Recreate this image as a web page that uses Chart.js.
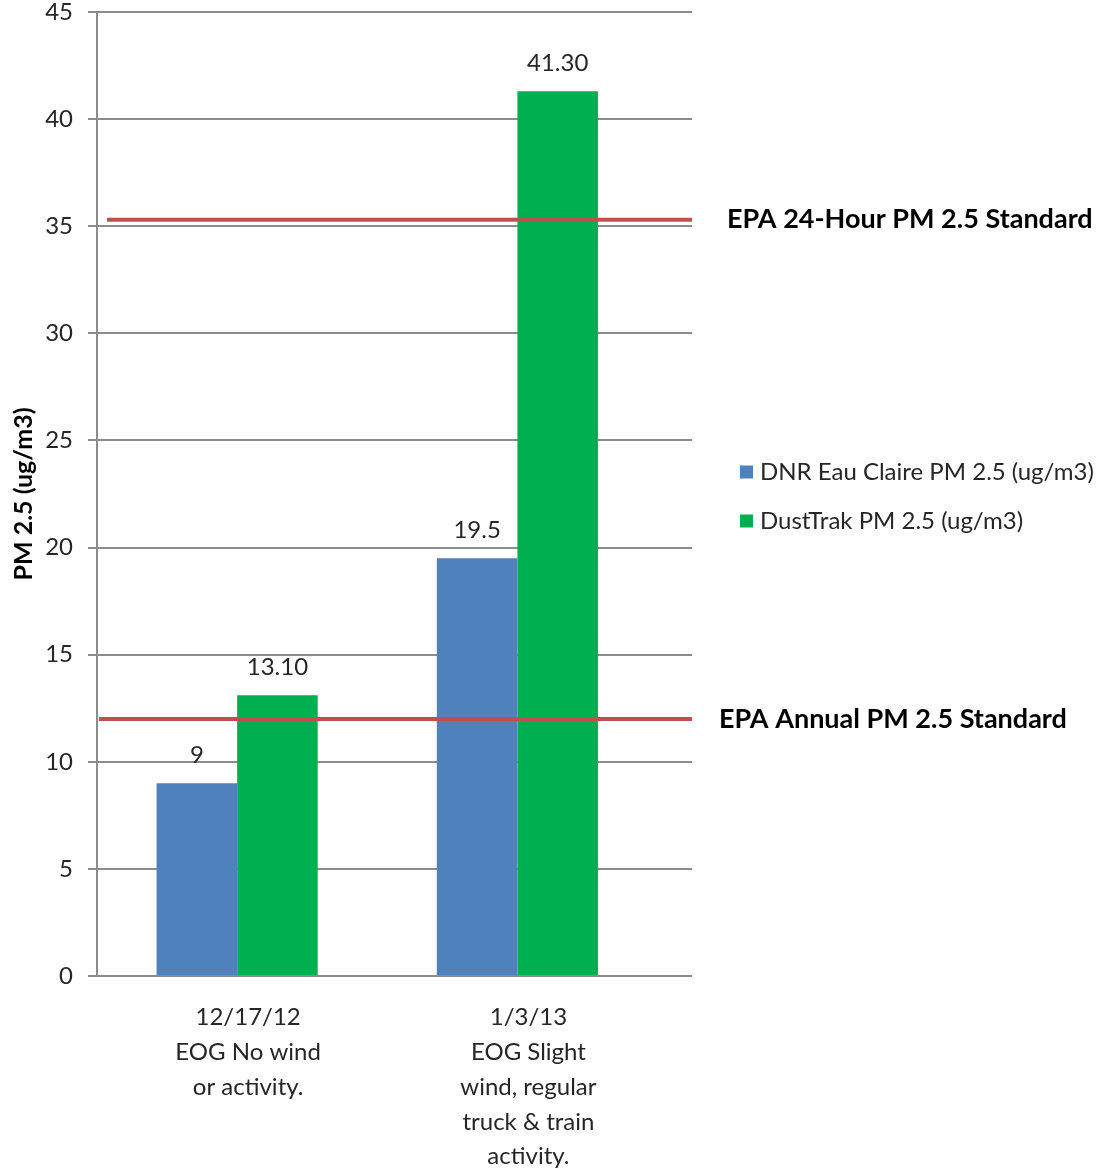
<!DOCTYPE html>
<html>
<head>
<meta charset="utf-8">
<title>PM 2.5 comparison</title>
<script src="https://cdn.jsdelivr.net/npm/chart.js@4/dist/chart.umd.min.js"></script>
<style>
  html, body { margin: 0; padding: 0; background: #ffffff; }
  #wrap { width: 1104px; height: 1173px; position: relative; }
</style>
</head>
<body>
<div id="wrap"><canvas id="chart" width="1104" height="1173"></canvas></div>
<script>
// Sampling events (multi-line axis labels)
const categories = [
  ['12/17/12', 'EOG No wind', 'or activity.'],
  ['1/3/13', 'EOG Slight', 'wind, regular', 'truck & train', 'activity.']
];

// Measured PM 2.5 (ug/m3)
const seriesNames = ['DNR Eau Claire PM 2.5 (ug/m3)', 'DustTrak PM 2.5 (ug/m3)'];
const dnrValues = [9, 19.5];
const dustTrakValues = [13.1, 41.3];
const valueDecimals = [null, 2];

// EPA reference standards
const standardNames = ['EPA 24-Hour PM 2.5 Standard', 'EPA Annual PM 2.5 Standard'];
const standardValues = [35.3, 12];

// Value axis ticks
const yTicks = [0, 5, 10, 15, 20, 25, 30, 35, 40, 45];

const FONT = 'Lato, "Open Sans", sans-serif';
const seriesColors = ['#4F81BD', '#00B050'];
const TEXT = '#262626';

const positions = categories.map((_, i) => i);

function fmt(v, dec) {
  return dec == null ? String(v) : v.toFixed(dec);
}

// Values printed above each bar
const barLabelPlugin = {
  id: 'barLabels',
  afterDatasetsDraw(chart) {
    const ctx = chart.ctx;
    ctx.save();
    ctx.font = '24px ' + FONT;
    ctx.fillStyle = TEXT;
    ctx.textAlign = 'center';
    ctx.textBaseline = 'middle';
    chart.data.datasets.forEach((ds, di) => {
      const meta = chart.getDatasetMeta(di);
      meta.data.forEach((bar, i) => {
        ctx.fillText(fmt(ds.data[i].y, valueDecimals[di]), bar.x, bar.y - 28);
      });
    });
    ctx.restore();
  }
};

// Horizontal standard lines with their captions, plus the series key
const overlayPlugin = {
  id: 'overlay',
  afterDatasetsDraw(chart, args, opts) {
    const ctx = chart.ctx;
    const area = chart.chartArea;
    const y = chart.scales.y;
    ctx.save();
    standardValues.forEach((v, i) => {
      const py = y.getPixelForValue(v);
      ctx.strokeStyle = '#C0504D';
      ctx.lineWidth = 4;
      ctx.beginPath();
      ctx.moveTo(area.left + opts.lineInset[i], py);
      ctx.lineTo(area.right, py);
      ctx.stroke();
      ctx.font = 'bold 27px ' + FONT;
      ctx.fillStyle = '#000000';
      ctx.textAlign = 'left';
      ctx.textBaseline = 'middle';
      ctx.fillText(standardNames[i], area.right + opts.captionGap[i], py);
    });
    // series key
    const midY = (area.top + area.bottom) / 2;
    ctx.font = '24px ' + FONT;
    ctx.textBaseline = 'middle';
    seriesNames.forEach((name, i) => {
      const cy = midY - 22 + i * 49;
      ctx.fillStyle = seriesColors[i];
      ctx.fillRect(area.right + 48, cy - 6.5, 13, 13);
      ctx.fillStyle = TEXT;
      ctx.fillText(name, area.right + 68, cy);
    });
    ctx.restore();
  }
};

new Chart(document.getElementById('chart'), {
  type: 'bar',
  data: {
    datasets: [
      {
        label: seriesNames[0],
        data: positions.map(i => ({ x: i, y: dnrValues[i] })),
        backgroundColor: seriesColors[0]
      },
      {
        label: seriesNames[1],
        data: positions.map(i => ({ x: i, y: dustTrakValues[i] })),
        backgroundColor: seriesColors[1]
      }
    ]
  },
  options: {
    responsive: false,
    animation: false,
    devicePixelRatio: 1,
    layout: { padding: { top: 12, right: 412, left: 0, bottom: 0 } },
    datasets: { bar: { categoryPercentage: 0.575, barPercentage: 1 } },
    plugins: {
      legend: { display: false },
      tooltip: { enabled: false },
      overlay: { lineInset: [10, 2], captionGap: [35, 27] }
    },
    scales: {
      x: {
        type: 'linear',
        bounds: 'data',
        offset: false,
        min: -0.5,
        max: 1.623,
        afterBuildTicks(axis) { axis.ticks = positions.map(v => ({ value: v })); },
        afterFit(axis) { axis.height = 197; },
        grid: { display: false, drawTicks: false, offset: false },
        border: { display: false },
        ticks: {
          autoSkip: false,
          maxRotation: 0,
          padding: 24,
          labelOffset: 11,
          color: TEXT,
          font: { family: FONT, size: 24, lineHeight: 1.45 },
          callback: (v) => categories[v]
        }
      },
      y: {
        min: 0,
        max: 45,
        afterBuildTicks(axis) { axis.ticks = yTicks.map(v => ({ value: v })); },
        afterFit(axis) {
          axis.width = 97;
          axis.paddingTop = 0;
          axis.paddingBottom = 0;
        },
        grid: { color: '#8c8c8c', lineWidth: 2, tickLength: 9, drawTicks: true },
        border: { display: true, color: '#8c8c8c', width: 2 },
        ticks: {
          padding: 15,
          color: TEXT,
          font: { family: FONT, size: 24, lineHeight: 1 }
        },
        title: {
          display: true,
          text: 'PM 2.5 (ug/m3)',
          color: '#000000',
          padding: { top: 9, bottom: 0 },
          font: { family: FONT, size: 25, weight: 'bold' }
        }
      }
    }
  },
  plugins: [barLabelPlugin, overlayPlugin]
});
</script>
</body>
</html>
